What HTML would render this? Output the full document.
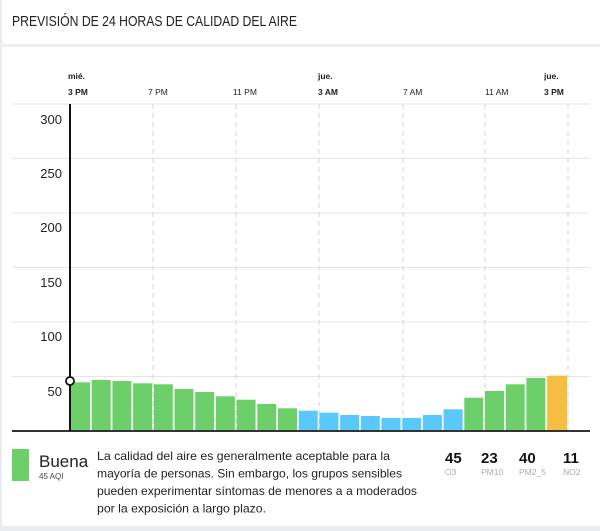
<!DOCTYPE html>
<html><head><meta charset="utf-8"><style>
html,body{margin:0;padding:0;background:#fff;}
svg{display:block;font-family:"Liberation Sans",sans-serif;}
</style></head><body>
<svg width="600" height="531" viewBox="0 0 600 531" xmlns="http://www.w3.org/2000/svg">
<rect x="0" y="0" width="600" height="531" fill="#fff"/>
<rect x="0" y="0" width="2" height="531" fill="#e8ebef"/>
<rect x="0" y="44" width="600" height="3" fill="#eceef1"/>
<rect x="0" y="526" width="600" height="5" fill="#e8ebf2"/>
<text x="12" y="26" font-size="15" fill="#222" textLength="285" lengthAdjust="spacingAndGlyphs">PREVISIÓN DE 24 HORAS DE CALIDAD DEL AIRE</text>
<g stroke="#e6e6e6" stroke-width="1">
<line x1="12" y1="104" x2="590" y2="104"/><line x1="12" y1="158.5" x2="590" y2="158.5"/>
<line x1="12" y1="213" x2="590" y2="213"/><line x1="12" y1="267.5" x2="590" y2="267.5"/>
<line x1="12" y1="322" x2="590" y2="322"/><line x1="12" y1="376.5" x2="590" y2="376.5"/>
</g>
<g stroke="#d4d4d4" stroke-width="1" stroke-dasharray="5,4">
<line x1="153" y1="104" x2="153" y2="431"/><line x1="236" y1="104" x2="236" y2="431"/>
<line x1="319" y1="104" x2="319" y2="431"/><line x1="403" y1="104" x2="403" y2="431"/>
<line x1="485" y1="104" x2="485" y2="431"/><line x1="568" y1="104" x2="568" y2="431"/>
</g>
<g font-size="13" fill="#222" text-anchor="end">
<text x="62" y="124">300</text><text x="62" y="178">250</text><text x="62" y="232">200</text>
<text x="62" y="287">150</text><text x="62" y="341">100</text><text x="62" y="396">50</text>
</g>
<g font-size="8.5" fill="#222">
<text x="68" y="79" font-weight="bold">mié.</text><text x="68" y="95" font-weight="bold">3 PM</text>
<text x="148" y="95">7 PM</text><text x="233" y="95">11 PM</text>
<text x="318" y="79" font-weight="bold">jue.</text><text x="318" y="95" font-weight="bold">3 AM</text>
<text x="403" y="95">7 AM</text><text x="485" y="95">11 AM</text>
<text x="544" y="79" font-weight="bold">jue.</text><text x="544" y="95" font-weight="bold">3 PM</text>
</g>
<g>
<rect x="71.0" y="382.3" width="19" height="48.7" fill="#6ccf6a"/>
<rect x="91.7" y="380" width="19" height="51" fill="#6ccf6a"/>
<rect x="112.4" y="381" width="19" height="50" fill="#6ccf6a"/>
<rect x="133.1" y="383.3" width="19" height="47.7" fill="#6ccf6a"/>
<rect x="153.8" y="384.3" width="19" height="46.7" fill="#6ccf6a"/>
<rect x="174.5" y="389" width="19" height="42" fill="#6ccf6a"/>
<rect x="195.2" y="392" width="19" height="39" fill="#6ccf6a"/>
<rect x="215.9" y="396.3" width="19" height="34.7" fill="#6ccf6a"/>
<rect x="236.6" y="399.7" width="19" height="31.3" fill="#6ccf6a"/>
<rect x="257.3" y="404" width="19" height="27" fill="#6ccf6a"/>
<rect x="278.0" y="408.3" width="19" height="22.7" fill="#6ccf6a"/>
<rect x="298.7" y="410.7" width="19" height="20.3" fill="#5ac8fa"/>
<rect x="319.4" y="412.7" width="19" height="18.3" fill="#5ac8fa"/>
<rect x="340.1" y="415" width="19" height="16" fill="#5ac8fa"/>
<rect x="360.8" y="416" width="19" height="15" fill="#5ac8fa"/>
<rect x="381.5" y="418" width="19" height="13" fill="#5ac8fa"/>
<rect x="402.2" y="418" width="19" height="13" fill="#5ac8fa"/>
<rect x="422.9" y="415" width="19" height="16" fill="#5ac8fa"/>
<rect x="443.6" y="409.3" width="19" height="21.7" fill="#5ac8fa"/>
<rect x="464.3" y="397.7" width="19" height="33.3" fill="#6ccf6a"/>
<rect x="485.0" y="391" width="19" height="40" fill="#6ccf6a"/>
<rect x="505.7" y="384.3" width="19" height="46.7" fill="#6ccf6a"/>
<rect x="526.4" y="378" width="19" height="53" fill="#6ccf6a"/>
<rect x="547.1" y="375.7" width="20" height="55.3" fill="#f5be41"/>
</g>
<line x1="12" y1="431" x2="590" y2="431" stroke="#333" stroke-width="2"/>
<line x1="70" y1="104" x2="70" y2="431" stroke="#111" stroke-width="2"/>
<circle cx="70" cy="381" r="4" fill="#fff" stroke="#111" stroke-width="1.8"/>
<rect x="12" y="449" width="17" height="32" fill="#6ccf6a"/>
<text x="39" y="467" font-size="17" fill="#222">Buena</text>
<text x="39" y="479" font-size="8" fill="#444">45 AQI</text>
<g font-size="12" fill="#222">
<text x="97" y="460" textLength="293" lengthAdjust="spacingAndGlyphs">La calidad del aire es generalmente aceptable para la</text>
<text x="97" y="477.5" textLength="305" lengthAdjust="spacingAndGlyphs">mayoría de personas. Sin embargo, los grupos sensibles</text>
<text x="97" y="495" textLength="320" lengthAdjust="spacingAndGlyphs">pueden experimentar síntomas de menores a a moderados</text>
<text x="97" y="512.5" textLength="169" lengthAdjust="spacingAndGlyphs">por la exposición a largo plazo.</text>
</g>
<g font-size="15" font-weight="bold" fill="#111">
<text x="445" y="463">45</text><text x="481" y="463">23</text><text x="519" y="463">40</text><text x="563" y="463">11</text>
</g>
<g font-size="8.5" fill="#aaa">
<text x="445" y="475">O3</text><text x="481" y="475">PM10</text><text x="519" y="475">PM2_5</text><text x="563" y="475">NO2</text>
</g>
</svg>
</body></html>
